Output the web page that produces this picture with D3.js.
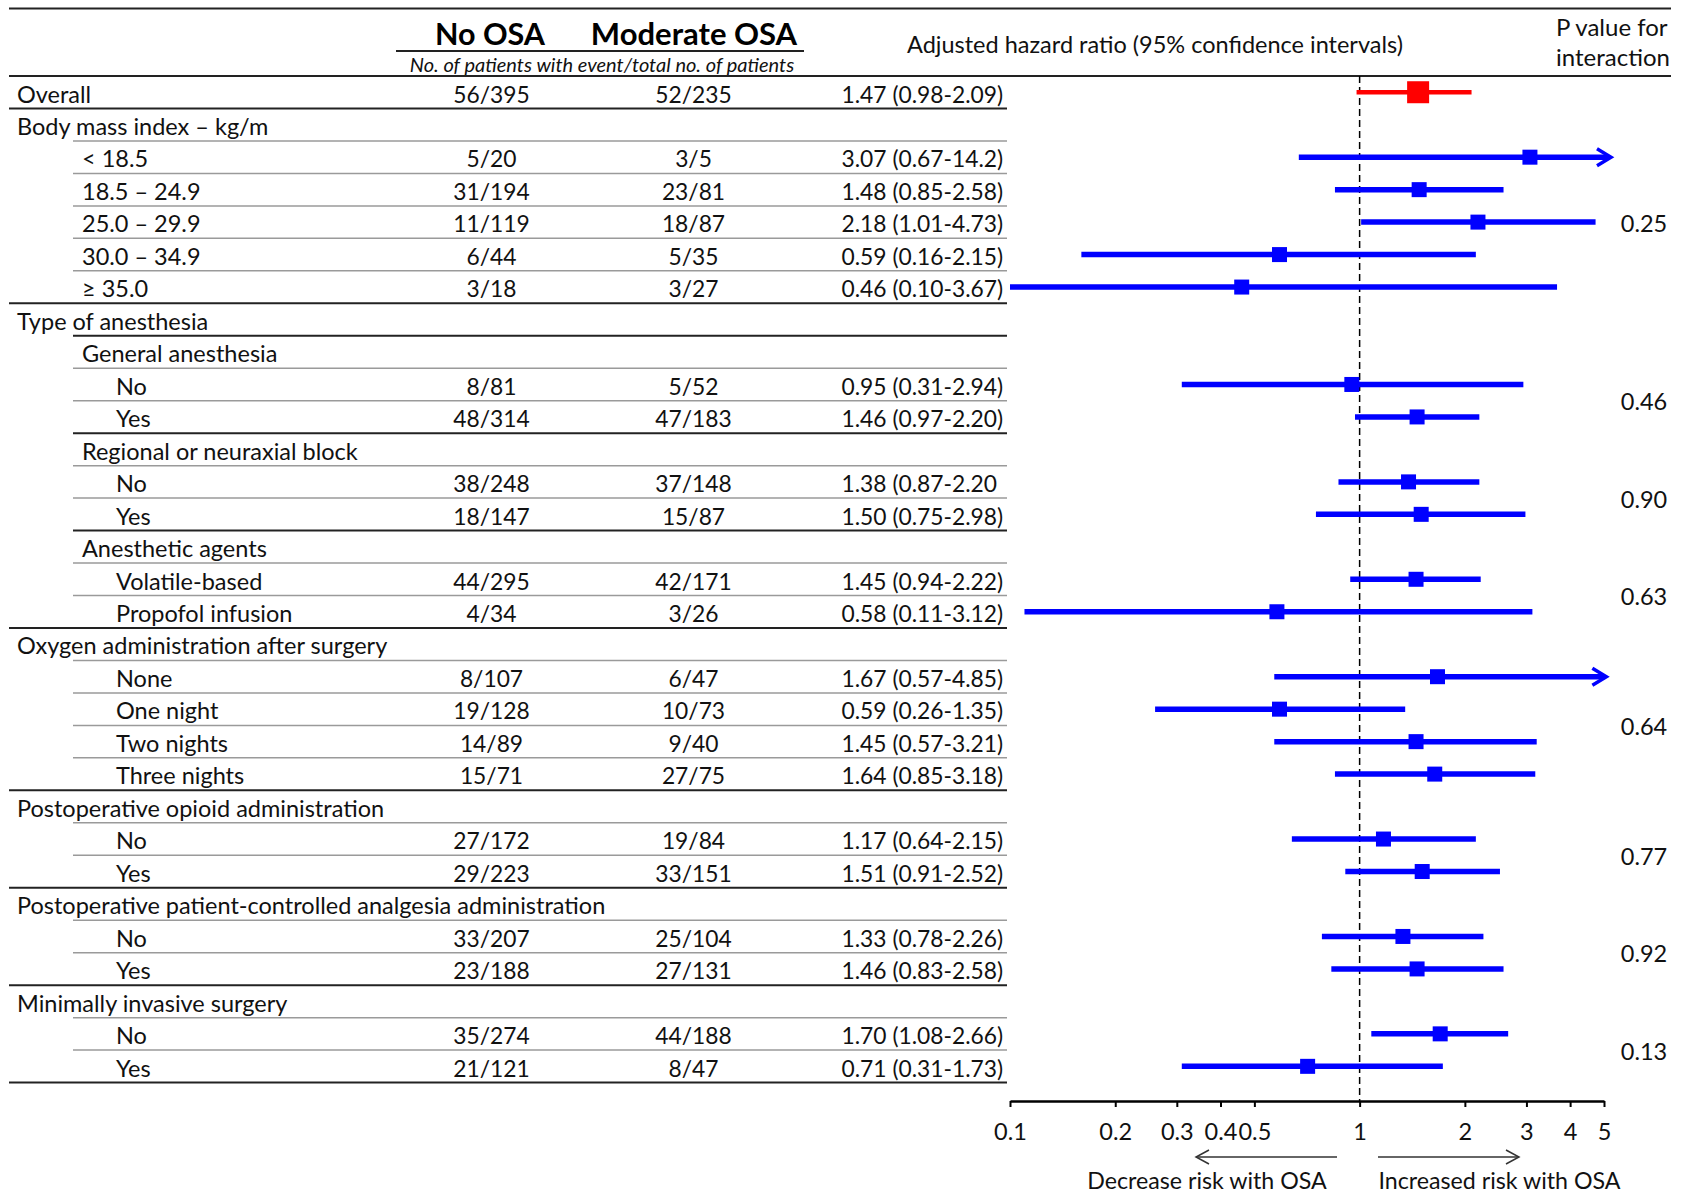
<!DOCTYPE html>
<html>
<head>
<meta charset="utf-8">
<script src="https://cdn.jsdelivr.net/npm/d3@7"></script>
<style>
  html, body { margin: 0; padding: 0; background: #fff; }
  svg { display: block; font-family: Lato, "Open Sans", sans-serif; }
</style>
</head>
<body>
<svg id="chart" width="1686" height="1194"></svg>
<script>
// ---- Subgroup table: labels, hierarchy level, event counts and hazard ratios ----
const rowLabels = [
  "Overall",
  "Body mass index \u2013 kg/m",
  "< 18.5", "18.5 \u2013 24.9", "25.0 \u2013 29.9", "30.0 \u2013 34.9", "\u2265 35.0",
  "Type of anesthesia",
  "General anesthesia", "No", "Yes",
  "Regional or neuraxial block", "No", "Yes",
  "Anesthetic agents", "Volatile-based", "Propofol infusion",
  "Oxygen administration after surgery", "None", "One night", "Two nights", "Three nights",
  "Postoperative opioid administration", "No", "Yes",
  "Postoperative patient-controlled analgesia administration", "No", "Yes",
  "Minimally invasive surgery", "No", "Yes"
];
// 0 = group, 1 = subgroup, 2 = nested subgroup
const rowLevels = [0, 0, 1, 1, 1, 1, 1, 0, 1, 2, 2, 1, 2, 2, 1, 2, 2, 0, 2, 2, 2, 2, 0, 2, 2, 0, 2, 2, 0, 2, 2];

const noOsaCounts = [
  "56/395", null, "5/20", "31/194", "11/119", "6/44", "3/18", null, null, "8/81", "48/314",
  null, "38/248", "18/147", null, "44/295", "4/34", null, "8/107", "19/128", "14/89", "15/71",
  null, "27/172", "29/223", null, "33/207", "23/188", null, "35/274", "21/121"
];
const modOsaCounts = [
  "52/235", null, "3/5", "23/81", "18/87", "5/35", "3/27", null, null, "5/52", "47/183",
  null, "37/148", "15/87", null, "42/171", "3/26", null, "6/47", "10/73", "9/40", "27/75",
  null, "19/84", "33/151", null, "25/104", "27/131", null, "44/188", "8/47"
];
const hrLabels = [
  "1.47 (0.98-2.09)", null, "3.07 (0.67-14.2)", "1.48 (0.85-2.58)", "2.18 (1.01-4.73)",
  "0.59 (0.16-2.15)", "0.46 (0.10-3.67)", null, null, "0.95 (0.31-2.94)", "1.46 (0.97-2.20)",
  null, "1.38 (0.87-2.20", "1.50 (0.75-2.98)", null, "1.45 (0.94-2.22)", "0.58 (0.11-3.12)",
  null, "1.67 (0.57-4.85)", "0.59 (0.26-1.35)", "1.45 (0.57-3.21)", "1.64 (0.85-3.18)",
  null, "1.17 (0.64-2.15)", "1.51 (0.91-2.52)", null, "1.33 (0.78-2.26)", "1.46 (0.83-2.58)",
  null, "1.70 (1.08-2.66)", "0.71 (0.31-1.73)"
];
const hazardRatio = [
  1.47, null, 3.07, 1.48, 2.18, 0.59, 0.46, null, null, 0.95, 1.46,
  null, 1.38, 1.50, null, 1.45, 0.58, null, 1.67, 0.59, 1.45, 1.64,
  null, 1.17, 1.51, null, 1.33, 1.46, null, 1.70, 0.71
];
const ciLower = [
  0.98, null, 0.67, 0.85, 1.01, 0.16, 0.10, null, null, 0.31, 0.97,
  null, 0.87, 0.75, null, 0.94, 0.11, null, 0.57, 0.26, 0.57, 0.85,
  null, 0.64, 0.91, null, 0.78, 0.83, null, 1.08, 0.31
];
const ciUpper = [
  2.09, null, 14.2, 2.58, 4.73, 2.15, 3.67, null, null, 2.94, 2.20,
  null, 2.20, 2.98, null, 2.22, 3.12, null, 4.85, 1.35, 3.21, 3.18,
  null, 2.15, 2.52, null, 2.26, 2.58, null, 2.66, 1.73
];
// intervals whose upper end is drawn as an open arrow
const ciUpperArrow = [2, 18];

// P values for interaction, each spanning a block of subgroup rows
const pValueLabels = ["0.25", "0.46", "0.90", "0.63", "0.64", "0.77", "0.92", "0.13"];
const pValueRows = [[2, 6], [9, 10], [12, 13], [15, 16], [18, 21], [23, 24], [26, 27], [29, 30]];

// Axis ticks
const axisTicks = [0.1, 0.2, 0.3, 0.4, 0.5, 1, 2, 3, 4, 5];

// ---- Layout ----
const svg = d3.select("#chart");
const textColor = "#111";
const ruleColor = "#222";
const lightRule = "#9a9a9a";
const fontSize = 23.5;
const numSize = 22.8;

const tableLeft = 9, tableRight = 1007, pageRight = 1671, innerLeft = 73;
const indentX = [17, 82, 116];
const colNoOsa = 491.5, colModOsa = 693.5, colHr = 841.5;

const y = d3.scaleBand()
  .domain(d3.range(rowLabels.length))
  .range([76, 76 + 32.47 * rowLabels.length])
  .paddingInner(0).paddingOuter(0);

const x = d3.scaleLog().domain([0.1, 5]).range([1010, 1604]);
const axisY = 1101;
const baseline = 26.5;

// ---- Header ----
svg.append("line").attr("x1", tableLeft).attr("x2", pageRight)
  .attr("y1", 8.5).attr("y2", 8.5).attr("stroke", ruleColor).attr("stroke-width", 2);
svg.append("line").attr("x1", tableLeft).attr("x2", pageRight)
  .attr("y1", y(0)).attr("y2", y(0)).attr("stroke", ruleColor).attr("stroke-width", 2);

svg.append("text").text("No OSA")
  .attr("x", 490).attr("y", 45).attr("text-anchor", "middle")
  .attr("font-size", 30.5).attr("font-weight", 700).attr("fill", "#000");
svg.append("text").text("Moderate OSA")
  .attr("x", 694).attr("y", 45).attr("text-anchor", "middle")
  .attr("font-size", 31).attr("font-weight", 700).attr("fill", "#000");
svg.append("line").attr("x1", 396).attr("x2", 804).attr("y1", 51).attr("y2", 51)
  .attr("stroke", ruleColor).attr("stroke-width", 2);
svg.append("text").text("No. of patients with event/total no. of patients")
  .attr("x", 602).attr("y", 72).attr("text-anchor", "middle")
  .attr("font-size", 20).attr("font-style", "italic").attr("fill", textColor);

svg.append("text").text("Adjusted hazard ratio (95% confidence intervals)")
  .attr("x", 1155).attr("y", 53).attr("text-anchor", "middle")
  .attr("font-size", fontSize).attr("fill", textColor);
svg.append("text").text("P value for")
  .attr("x", 1556).attr("y", 36).attr("font-size", 24).attr("fill", textColor);
svg.append("text").text("interaction")
  .attr("x", 1556).attr("y", 66).attr("font-size", 24).attr("fill", textColor);

// ---- Table rows ----
const rows = d3.range(rowLabels.length);
const rowG = svg.append("g").selectAll("g").data(rows).join("g")
  .attr("transform", i => `translate(0,${y(i)})`);

rowG.append("text")
  .attr("x", i => indentX[rowLevels[i]])
  .attr("y", baseline)
  .attr("font-size", fontSize).attr("fill", textColor)
  .text(i => rowLabels[i]);

rowG.filter(i => noOsaCounts[i]).append("text")
  .attr("x", colNoOsa).attr("y", baseline).attr("text-anchor", "middle")
  .attr("font-size", numSize).attr("fill", textColor)
  .text(i => noOsaCounts[i]);

rowG.filter(i => modOsaCounts[i]).append("text")
  .attr("x", colModOsa).attr("y", baseline).attr("text-anchor", "middle")
  .attr("font-size", numSize).attr("fill", textColor)
  .text(i => modOsaCounts[i]);

rowG.filter(i => hrLabels[i]).append("text")
  .attr("x", colHr).attr("y", baseline)
  .attr("font-size", numSize).attr("fill", textColor)
  .text(i => hrLabels[i]);

// Rule under each row: dark where a block closes, light inside a block
rowG.append("line")
  .each(function (i) {
    const next = i + 1;
    let x1 = innerLeft, color = lightRule, w = 1.5;
    if (next >= rowLabels.length || rowLevels[next] === 0) {
      x1 = tableLeft; color = ruleColor; w = 2;
    } else if (rowLevels[next] === 1 && hazardRatio[next] === null) {
      color = ruleColor; w = 2;
    }
    d3.select(this)
      .attr("x1", x1).attr("x2", tableRight)
      .attr("y1", y.bandwidth()).attr("y2", y.bandwidth())
      .attr("stroke", color).attr("stroke-width", w);
  });

// ---- Forest plot ----
const plot = svg.append("g");

// reference line at HR = 1
plot.append("line")
  .attr("x1", x(1)).attr("x2", x(1))
  .attr("y1", y(0)).attr("y2", axisY)
  .attr("stroke", "#000").attr("stroke-width", 1.5)
  .attr("stroke-dasharray", "7,4");

const dataRows = rows.filter(i => hazardRatio[i] !== null);
const xMax = x.domain()[1];
const markColor = i => (i === 0 ? "#ff0000" : "#0000ff");
const arrowTip = i => x(Math.min(ciUpper[i], xMax)) + 7;

const ci = plot.selectAll("g.ci").data(dataRows).join("g")
  .attr("class", "ci")
  .attr("transform", i => `translate(0,${y(i) + y.bandwidth() / 2})`);

ci.append("line")
  .attr("x1", i => x(ciLower[i]))
  .attr("x2", i => ciUpperArrow.includes(i) ? arrowTip(i) - 2 : x(Math.min(ciUpper[i], xMax)))
  .attr("y1", 0).attr("y2", 0)
  .attr("stroke", markColor)
  .attr("stroke-width", i => (i === 0 ? 4.5 : 5.5));

ci.filter(i => ciUpperArrow.includes(i)).append("polyline")
  .attr("points", i => {
    const t = arrowTip(i);
    return `${t - 14},${-8.5} ${t},0 ${t - 14},${8.5}`;
  })
  .attr("fill", "none").attr("stroke", markColor).attr("stroke-width", 3.5);

ci.append("rect")
  .attr("x", i => x(hazardRatio[i]) - (i === 0 ? 11 : 7.5))
  .attr("y", i => (i === 0 ? -11 : -7.5))
  .attr("width", i => (i === 0 ? 22 : 15))
  .attr("height", i => (i === 0 ? 22 : 15))
  .attr("fill", markColor);

// P values for interaction
plot.selectAll("text.pval").data(pValueLabels).join("text")
  .attr("class", "pval")
  .attr("x", 1644).attr("text-anchor", "middle")
  .attr("y", (d, k) => {
    const [a, b] = pValueRows[k];
    return (y(a) + y(b)) / 2 + y.bandwidth() / 2 + 9.5;
  })
  .attr("font-size", 23.5).attr("fill", textColor)
  .text(d => d);

// ---- Axis ----
const axis = d3.axisBottom(x)
  .tickValues(axisTicks)
  .tickFormat(d3.format("~g"))
  .tickSizeInner(6).tickSizeOuter(0).tickPadding(16);

const axisG = svg.append("g").attr("transform", `translate(0,${axisY})`).call(axis);
axisG.select(".domain").attr("stroke", "#000").attr("stroke-width", 2.5);
axisG.selectAll(".tick line").attr("stroke", "#000").attr("stroke-width", 2);
axisG.selectAll(".tick text")
  .attr("font-family", "Lato, 'Open Sans', sans-serif")
  .attr("font-size", fontSize).attr("fill", textColor);

// direction arrows under the axis
const dirY = 1157;
const dir = svg.append("g").attr("stroke", "#333").attr("stroke-width", 1.5).attr("fill", "none");
dir.append("line").attr("x1", 1337).attr("x2", 1196).attr("y1", dirY).attr("y2", dirY);
dir.append("polyline").attr("points", `${1209},${dirY - 7} ${1196},${dirY} ${1209},${dirY + 7}`);
dir.append("line").attr("x1", 1378).attr("x2", 1519).attr("y1", dirY).attr("y2", dirY);
dir.append("polyline").attr("points", `${1506},${dirY - 7} ${1519},${dirY} ${1506},${dirY + 7}`);

svg.append("text").text("Decrease risk with OSA")
  .attr("x", 1207).attr("y", 1189).attr("text-anchor", "middle")
  .attr("font-size", 23.2).attr("fill", textColor);
svg.append("text").text("Increased risk with OSA")
  .attr("x", 1499.5).attr("y", 1189).attr("text-anchor", "middle")
  .attr("font-size", 23.2).attr("fill", textColor);
</script>
</body>
</html>
